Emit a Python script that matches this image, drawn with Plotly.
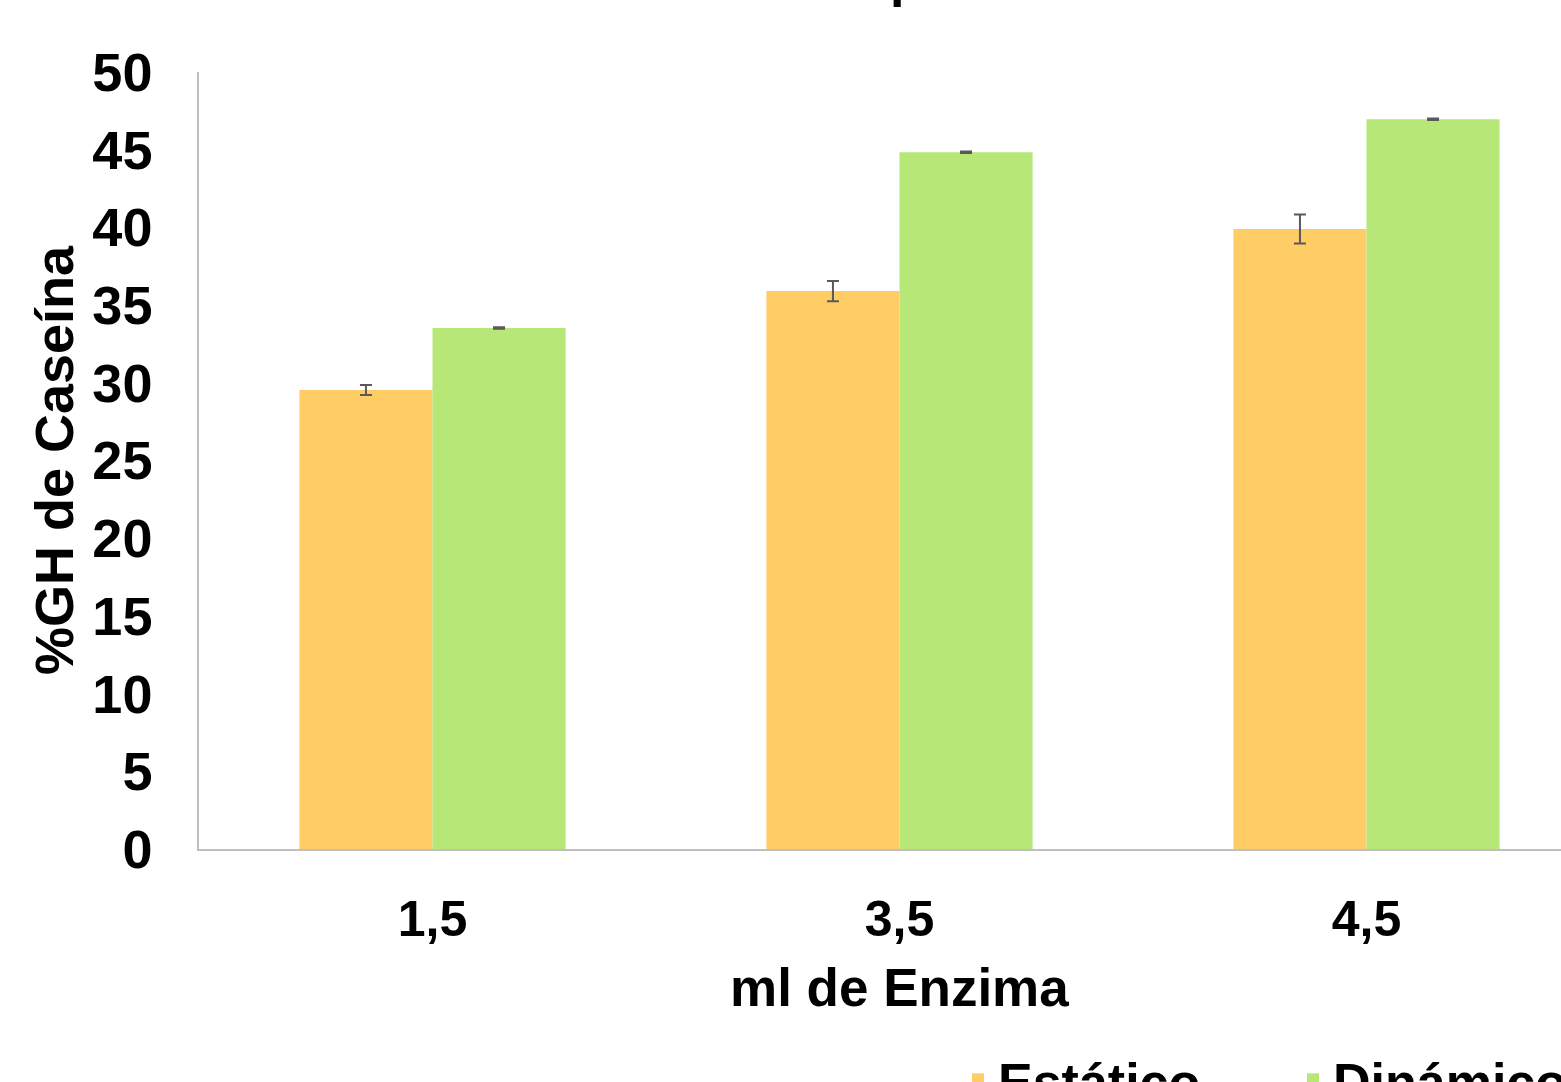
import plotly.graph_objects as go

categories = ["1,5", "3,5", "4,5"]
estatico = [29.54, 35.9, 39.9]
estatico_err = [0.32, 0.65, 0.93]
dinamico = [33.53, 44.83, 46.96]
dinamico_err = [0.05, 0.05, 0.05]

y_ticks = list(range(0, 51, 5))

W, H = 1561, 1082
L, R, T = 199, 0, 72
B = H - 849
FONT = "Liberation Sans, Arial, sans-serif"
ORANGE = "#FFCC66"
GREEN = "#B6E777"
ERR = "#595959"

fig = go.Figure()
fig.add_trace(go.Bar(
    name="Estático", x=categories, y=estatico,
    marker=dict(color=ORANGE, line=dict(width=0)),
    error_y=dict(type="data", array=estatico_err, visible=True,
                 color=ERR, thickness=2, width=6),
))
fig.add_trace(go.Bar(
    name="Dinámico", x=categories, y=dinamico,
    marker=dict(color=GREEN, line=dict(width=0)),
    error_y=dict(type="data", array=dinamico_err, visible=True,
                 color=ERR, thickness=2, width=6),
))

plot_w = W - L - R
plot_h = H - T - B
bottom_px = H - B
cat_px = 467.0
x_max = -0.5 + plot_w / cat_px

fig.update_layout(
    width=W, height=H,
    margin=dict(l=L, r=R, t=T, b=B, pad=0, autoexpand=False),
    paper_bgcolor="white", plot_bgcolor="white",
    barmode="group", bargap=0.43, bargroupgap=0,
    font=dict(family=FONT, color="black"),
    showlegend=True,
    legend=dict(
        orientation="h", x=(958 - L) / plot_w, xanchor="left",
        y=-(1039 - bottom_px) / plot_h, yanchor="top",
        font=dict(size=52, family=FONT, color="black", weight="bold"),
        entrywidth=290, entrywidthmode="pixels",
        bgcolor="rgba(0,0,0,0)",
    ),
    xaxis=dict(
        type="category", range=[-0.5, x_max], automargin=False,
        showline=True, linecolor="#BFBFBF", linewidth=1.5,
        ticks="", showgrid=False, zeroline=False,
        tickfont=dict(size=50, family=FONT, color="black", weight="bold"),
        ticklabelstandoff=25,
    ),
    yaxis=dict(
        range=[0, 50], tickvals=y_ticks, ticktext=[str(v) for v in y_ticks],
        automargin=False,
        showline=True, linecolor="#BFBFBF", linewidth=1.5,
        ticks="", showgrid=False, zeroline=False,
        tickfont=dict(size=54, family=FONT, color="black", weight="bold"),
        ticklabelstandoff=34,
        title=dict(text="%GH de Caseína", standoff=1,
                   font=dict(size=54, family=FONT, color="black", weight="bold")),
    ),
)

# X-axis title, centred on the middle category like the original
fig.add_annotation(
    text="ml de Enzima", xref="x", yref="paper",
    x=1, xanchor="center",
    y=-(956 - bottom_px) / plot_h, yanchor="top",
    showarrow=False,
    font=dict(size=53, family=FONT, color="black", weight="bold"),
)

# Chart title, cut off at the top edge (only a descender is visible)
fig.add_annotation(
    text="p", xref="paper", yref="paper",
    x=(888 - L) / plot_w, xanchor="left",
    y=(bottom_px - 9) / plot_h, yanchor="bottom",
    showarrow=False,
    font=dict(size=52, family=FONT, color="black", weight="bold"),
)

fig.write_html(
    "out.html",
    config={"displayModeBar": False},
    post_script="document.body.style.margin='0';document.body.style.overflow='hidden';",
)
